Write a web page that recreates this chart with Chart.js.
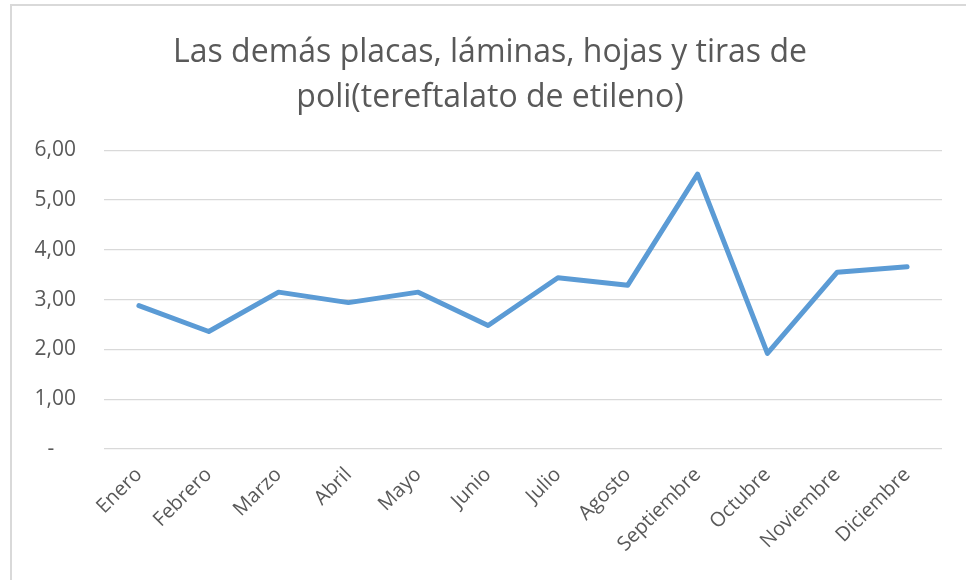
<!DOCTYPE html>
<html><head><meta charset="utf-8">
<script src="https://cdn.jsdelivr.net/npm/chart.js@4"></script>
<style>
html,body{margin:0;padding:0;background:#fff;overflow:hidden}
#wrap{position:relative;width:966px;height:580px;overflow:hidden}
#frame{position:absolute;left:10px;top:4px;width:1000px;height:700px;border-left:2px solid #d9d9d9;border-top:2px solid #d9d9d9}
canvas{position:absolute;left:0;top:0}
</style></head><body>
<div id="wrap"><div id="frame"></div><canvas id="c" width="966" height="580"></canvas></div>
<script>
const titleLines = ["Las demás placas, láminas, hojas y tiras de", "poli(tereftalato de etileno)"];
const categories = ["Enero","Febrero","Marzo","Abril","Mayo","Junio","Julio","Agosto","Septiembre","Octubre","Noviembre","Diciembre"];
const values = [2.88, 2.36, 3.15, 2.94, 3.15, 2.48, 3.44, 3.29, 5.52, 1.92, 3.55, 3.66];
const yMin = 0, yMax = 6, yStep = 1;

const FONT = "'Open Sans', sans-serif";
const GREY = '#595959';

// centre the title over the plot area (as in the reference) instead of the whole canvas
const titleShift = {
  id: 'titleShift',
  afterLayout(chart) {
    const t = chart.titleBlock;
    if (t) { t.left = 38; t.right = 942; t.width = t.right - t.left; }
  }
};

new Chart(document.getElementById('c'), {
  type: 'line',
  data: {
    labels: categories,
    datasets: [{
      data: values,
      borderColor: '#5B9BD5',
      borderWidth: 5,
      pointRadius: 0,
      pointHoverRadius: 0,
      tension: 0,
      borderCapStyle: 'round',
      borderJoinStyle: 'round',
      fill: false
    }]
  },
  plugins: [titleShift],
  options: {
    responsive: false,
    animation: false,
    events: [],
    layout: { padding: { left: 0, right: 24, top: 0, bottom: 0 } },
    plugins: {
      legend: { display: false },
      tooltip: { enabled: false },
      title: {
        display: true,
        text: titleLines,
        color: GREY,
        font: { family: FONT, size: 32, weight: 'normal', lineHeight: 1.41 },
        padding: { top: 30, bottom: 30 }
      }
    },
    scales: {
      x: {
        type: 'category',
        offset: true,
        grid: { display: false, drawTicks: false },
        border: { display: false },
        ticks: {
          color: GREY,
          font: { family: FONT, size: 20 },
          maxRotation: 45,
          minRotation: 45,
          padding: 14,
          autoSkip: false
        },
        afterFit: s => { s.height = 131; }
      },
      y: {
        min: yMin,
        max: yMax,
        grid: { color: '#d9d9d9', lineWidth: 1.3, drawTicks: false },
        border: { display: false },
        ticks: {
          stepSize: yStep,
          color: GREY,
          font: { family: FONT, size: 21 },
          padding: 28,
          callback: v => v === 0 ? '-    ' : v.toFixed(2).replace('.', ',')
        },
        afterFit: s => { s.width = 104; }
      }
    }
  }
});
</script>
</body></html>
